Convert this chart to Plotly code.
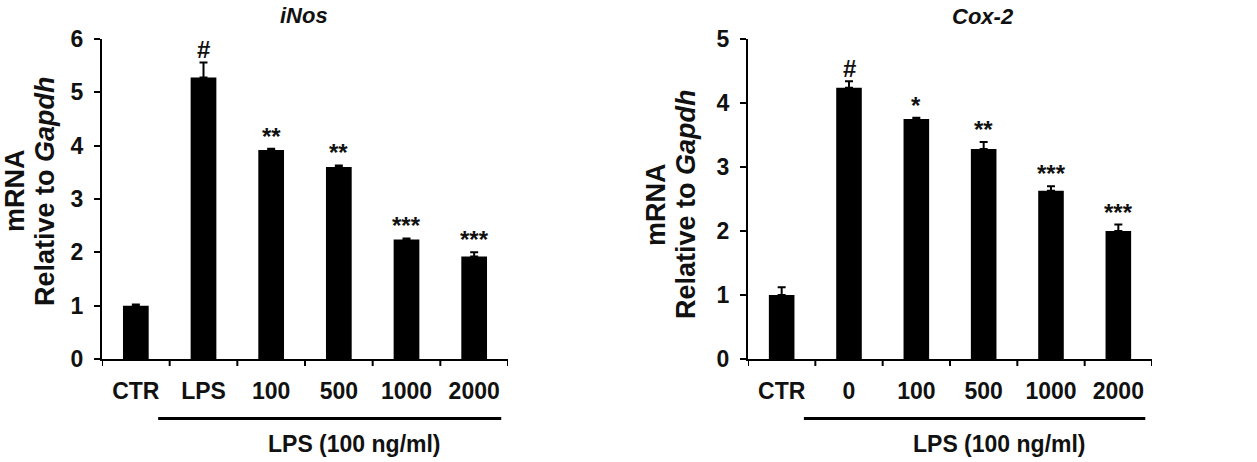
import plotly.graph_objects as go

W, H = 1257, 462

# ---- data ----
inos_categories = ["CTR", "LPS", "100", "500", "1000", "2000"]
inos_values = [1.0, 5.28, 3.92, 3.60, 2.24, 1.92]
inos_errors = [0.02, 0.28, 0.02, 0.03, 0.02, 0.08]
inos_marks = ["", "#", "**", "**", "***", "***"]

cox_categories = ["CTR", "0", "100", "500", "1000", "2000"]
cox_values = [1.0, 4.24, 3.75, 3.28, 2.63, 2.00]
cox_errors = [0.12, 0.10, 0.02, 0.11, 0.07, 0.10]
cox_marks = ["", "#", "*", "**", "***", "***"]

inos_ticks = [0, 1, 2, 3, 4, 5, 6]
cox_ticks = [0, 1, 2, 3, 4, 5]

FONT = "Liberation Sans, Arial, sans-serif"


def px(x):
    return x / W


def py(y):
    return (H - y) / H


fig = go.Figure()

panels = [
    dict(cats=inos_categories, vals=inos_values, errs=inos_errors, marks=inos_marks,
         ticks=inos_ticks, xa="x", ya="y", x0=102, x1=508, title="iNos", tx=304, ty=1,
         t1x=15, t2x=45, tyc=191),
    dict(cats=cox_categories, vals=cox_values, errs=cox_errors, marks=cox_marks,
         ticks=cox_ticks, xa="x2", ya="y2", x0=748, x1=1152, title="Cox-2", tx=983, ty=2,
         t1x=656, t2x=686, tyc=204),
]

annotations = []
shapes = []
for i, p in enumerate(panels):
    n = len(p["cats"])
    fig.add_trace(go.Bar(
        x=list(range(n)), y=p["vals"], xaxis=p["xa"], yaxis=p["ya"],
        marker=dict(color="black", line=dict(width=0)),
        width=0.38,
        error_y=dict(type="data", array=p["errs"], arrayminus=[0] * n,
                     symmetric=False, color="black", thickness=2, width=4),
        showlegend=False,
    ))
    sfx = "" if i == 0 else "2"
    axis_common = dict(showline=True, linecolor="black", linewidth=2, ticks="outside",
                       ticklen=6, tickwidth=2, tickcolor="black", showgrid=False,
                       zeroline=False, automargin=False,
                       tickfont=dict(family=FONT, size=23, color="#111", weight="bold"))
    fig.update_layout(**{
        "xaxis" + sfx: dict(domain=[px(p["x0"]), px(p["x1"])], type="linear",
                            range=[-0.5, n - 0.5],
                            tickvals=list(range(n)), ticktext=p["cats"],
                            ticks="", ticklabelstandoff=10,
                            anchor="y" + sfx,
                            **{k: v for k, v in axis_common.items() if k != "ticks"}),
        "yaxis" + sfx: dict(domain=[py(359), py(39)], range=[0, max(p["ticks"])],
                            tickvals=p["ticks"], anchor="x" + sfx,
                            ticklabelstandoff=6, **axis_common),
    })
    # x-axis boundary ticks (category separators)
    for b in range(n + 1):
        shapes.append(dict(type="line", xref=p["xa"], yref="paper", x0=b - 0.5, x1=b - 0.5,
                           y0=py(359), y1=py(366), line=dict(color="black", width=2)))
    # significance marks
    for j, (v, e, m) in enumerate(zip(p["vals"], p["errs"], p["marks"])):
        if m:
            annotations.append(dict(x=j, y=v + e, xref=p["xa"], yref=p["ya"], text=m,
                                    showarrow=False, xanchor="center", yanchor="bottom",
                                    yshift=-3,
                                    font=dict(family=FONT, size=24, color="#111",
                                              weight="bold")))
    # group line and label
    shapes.append(dict(type="line", xref=p["xa"], yref="paper", x0=0.33, x1=5.4,
                       y0=py(418.5), y1=py(418.5), line=dict(color="black", width=3)))
    annotations.append(dict(x=3.23, y=py(444), xref=p["xa"], yref="paper",
                            text="LPS (100 ng/ml)", showarrow=False,
                            xanchor="center", yanchor="middle",
                            font=dict(family=FONT, size=23, color="#111", weight="bold")))
    # title
    annotations.append(dict(x=px(p["tx"]), y=py(p["ty"]), xref="paper", yref="paper",
                            text="<i>" + p["title"] + "</i>", showarrow=False,
                            xanchor="center", yanchor="top",
                            font=dict(family=FONT, size=22, color="#111", weight="bold")))
    # y-axis title (two lines)
    annotations.append(dict(x=px(p["t1x"]), y=py(p["tyc"]), xref="paper", yref="paper",
                            text="mRNA", textangle=-90, showarrow=False,
                            xanchor="center", yanchor="middle",
                            font=dict(family=FONT, size=27, color="#111", weight="bold")))
    annotations.append(dict(x=px(p["t2x"]), y=py(p["tyc"]), xref="paper", yref="paper",
                            text="Relative to <i>Gapdh</i>", textangle=-90, showarrow=False,
                            xanchor="center", yanchor="middle",
                            font=dict(family=FONT, size=27, color="#111", weight="bold")))

fig.update_layout(
    width=W, height=H,
    margin=dict(l=0, r=0, t=0, b=0, pad=0, autoexpand=False),
    paper_bgcolor="white", plot_bgcolor="white",
    annotations=annotations, shapes=shapes,
)

fig.write_html("out.html")
